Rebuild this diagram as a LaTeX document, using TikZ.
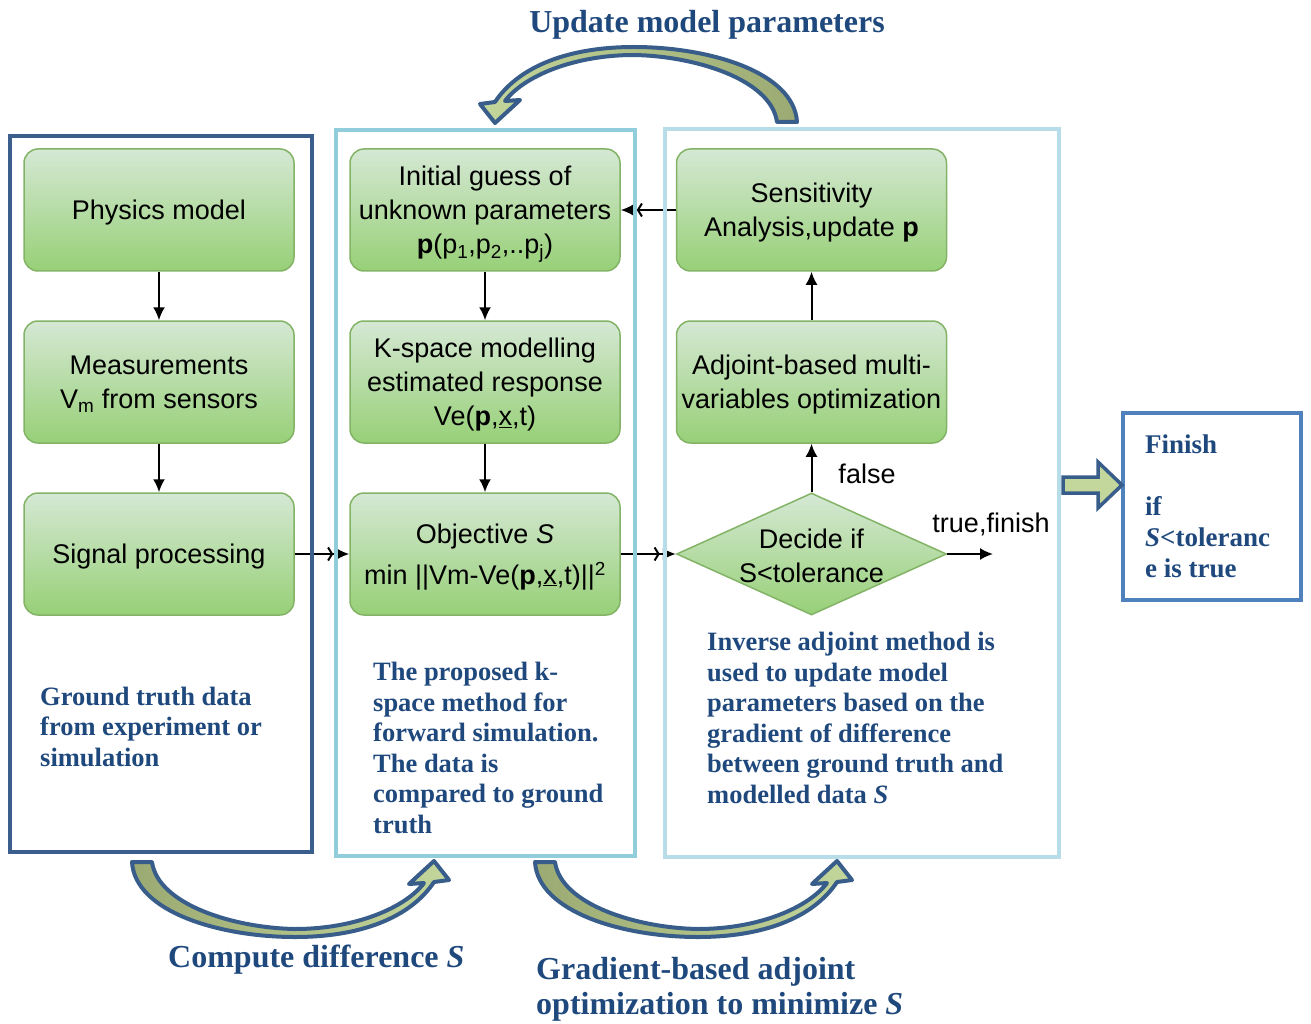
\documentclass[tikz,border=0pt]{standalone}
\usepackage{fontspec}
\setmainfont{Liberation Serif}
\setsansfont{Liberation Sans}
\usetikzlibrary{arrows.meta,shapes.geometric}

\definecolor{frameA}{RGB}{59,94,140}
\definecolor{frameB}{RGB}{146,205,220}
\definecolor{frameC}{RGB}{183,222,232}
\definecolor{frameF}{RGB}{79,129,189}
\definecolor{noteblue}{RGB}{31,73,125}
\definecolor{gtop}{RGB}{213,232,212}
\definecolor{gbot}{RGB}{151,208,119}
\definecolor{gline}{RGB}{130,179,102}
\definecolor{arrline}{RGB}{56,93,138}
\definecolor{olivefill}{RGB}{155,170,114}
\definecolor{lightfill}{RGB}{195,214,155}

\tikzset{
  % flow-chart step boxes
  stepbox/.style={draw=gline, line width=1.5pt, rounded corners=14pt,
    top color=gtop, bottom color=gbot, minimum width=270pt, minimum height=122pt,
    inner sep=0pt, text depth=0pt, align=center, font=\sffamily\fontsize{27}{34}\selectfont},
  decbox/.style={diamond, draw=gline, line width=1.5pt,
    top color=gtop, bottom color=gbot, minimum width=270pt, minimum height=122pt,
    inner sep=0pt},
  boxtext/.style={align=center, inner sep=0pt, font=\sffamily\fontsize{27}{34}\selectfont},
  conn/.style={line width=2pt, -{Latex[length=13pt,width=12pt]}},
  connx/.style={line width=2pt,
    -{Straight Barb[length=4pt,width=13pt,sep=3pt]Latex[length=13pt,width=12pt]}},
  % multi-line notes are placed by the baseline of their last line
  note/.style={text=noteblue, align=left, anchor=base west, inner sep=0pt,
    font=\bfseries\fontsize{26.5}{30.5}\selectfont},
  headline/.style={text=noteblue, align=left, inner sep=0pt,
    font=\bfseries\fontsize{32}{35}\selectfont},
  frame/.style={line width=4pt},
  arrowbody/.style={draw=arrline, line width=4pt, line join=round},
  % curved block arrow: tail on the left, head on the right pointing up
  bigarrow/.pic={
    \path[arrowbody,#1] (132,862) -- (152,862)
      .. controls (158,905) and (235,928) .. (295,929)
      .. controls (355,929) and (405,908) .. (424,883)
      -- (409,884) -- (434,861) -- (449,880) -- (434,882)
      .. controls (410,918) and (360,937) .. (295,937)
      .. controls (220,937) and (135,912) .. (132,862) -- cycle;
  }
}

\begin{document}
\begin{tikzpicture}[x=1pt,y=-1pt]
\useasboundingbox (0,0) rectangle (1311,1024);

% steps of the left column
\node[stepbox] (phys) at (159,210) {Physics model};
\node[stepbox] (meas) at (159,382) {Measurements\\V\textsubscript{m} from sensors};
\node[stepbox] (sig)  at (159,554) {Signal processing};

% steps of the middle column
\node[stepbox] (init) at (485,210) {Initial guess of\\unknown parameters\\\textbf{p}(p\textsubscript{1},p\textsubscript{2},..p\textsubscript{j})};
\node[stepbox] (kspace) at (485,382) {K-space modelling\\estimated response\\Ve(\textbf{p},\underline{x},t)};
\node[stepbox] (obj) at (485,554) {Objective \textit{S}\\[7pt]min ||Vm-Ve(\textbf{p},\underline{x},t)||\textsuperscript{2}};

% steps of the right column
\node[stepbox] (sens) at (811.5,210) {Sensitivity\\Analysis,update \textbf{p}};
\node[stepbox] (adj)  at (811.5,382) {Adjoint-based multi-\\variables optimization};
\node[decbox] (dec) at (811.5,554) {};
\node[boxtext] (dectext) at (811.5,556) {Decide if\\S<tolerance};
\coordinate (done) at (993,554);

% connectors
\draw[conn] (phys) -- (meas);
\draw[conn] (meas) -- (sig);
\draw[conn] (init) -- (kspace);
\draw[conn] (kspace) -- (obj);
\draw[connx] (sig.east) -- (obj.west);
\draw[connx] (obj.east) -- (dec.west);
\draw[connx] (sens.west) -- (init.east);
\draw[conn] (dec.north) -- (adj.south);
\draw[conn] (adj) -- (sens);
\draw[conn] (dec.east) -- (done);
\node[boxtext] (falselbl) at (867,474) {false};
\node[boxtext] (truelbl) at (991,524) {true,finish};

% column frames
\draw[frame, frameA] (10,136) rectangle (312,852);
\draw[frame, frameB] (336,130) rectangle (635,856);
\draw[frame, frameC] (665,129) rectangle (1059,857);

% notes inside the frames
\node[note] (leftnote) at (40,766) {Ground truth data\\from experiment or\\simulation};
\node[note] (midnote) at (373,833) {The proposed k-\\space method for\\forward simulation.\\The data is\\compared to ground\\truth};
\node[note] (rightnote) at (707,803) {Inverse adjoint method is\\used to update model\\parameters based on the\\gradient of difference\\between ground truth and\\modelled data \textit{S}};

% finish box with its block arrow
\node[draw=frameF, line width=4pt, minimum width=178pt, minimum height=187pt, inner sep=0pt]
  (finbox) at (1212,506.5) {};
\node[note, font=\bfseries\fontsize{27}{31}\selectfont] (fintext) at (1145,577)
  {Finish\\[31pt]if\\\textit{S}<toleranc\\e is true};
\path[draw=arrline, line width=3.5pt, fill=lightfill, line join=miter]
  (1063,477) -- (1098,477) -- (1098,462) -- (1122,485) -- (1098,508) -- (1098,493) -- (1063,493) -- cycle;

% curved block arrows between the frames
\pic at (0,0) {bigarrow={left color=olivefill, right color=lightfill}};
\pic at (403,0) {bigarrow={left color=olivefill, right color=lightfill}};
\pic[rotate=180] at (929,984) {bigarrow={left color=lightfill, right color=olivefill}};

% captions of the curved arrows
\node[headline, anchor=base] (toplbl) at (707,33) {Update model parameters};
\node[headline, anchor=base west] (difflbl) at (168,967) {Compute difference \textit{S}};
\node[headline, anchor=base west] (optlbl) at (536,1014) {Gradient-based adjoint\\optimization to minimize \textit{S}};
\end{tikzpicture}
\end{document}
